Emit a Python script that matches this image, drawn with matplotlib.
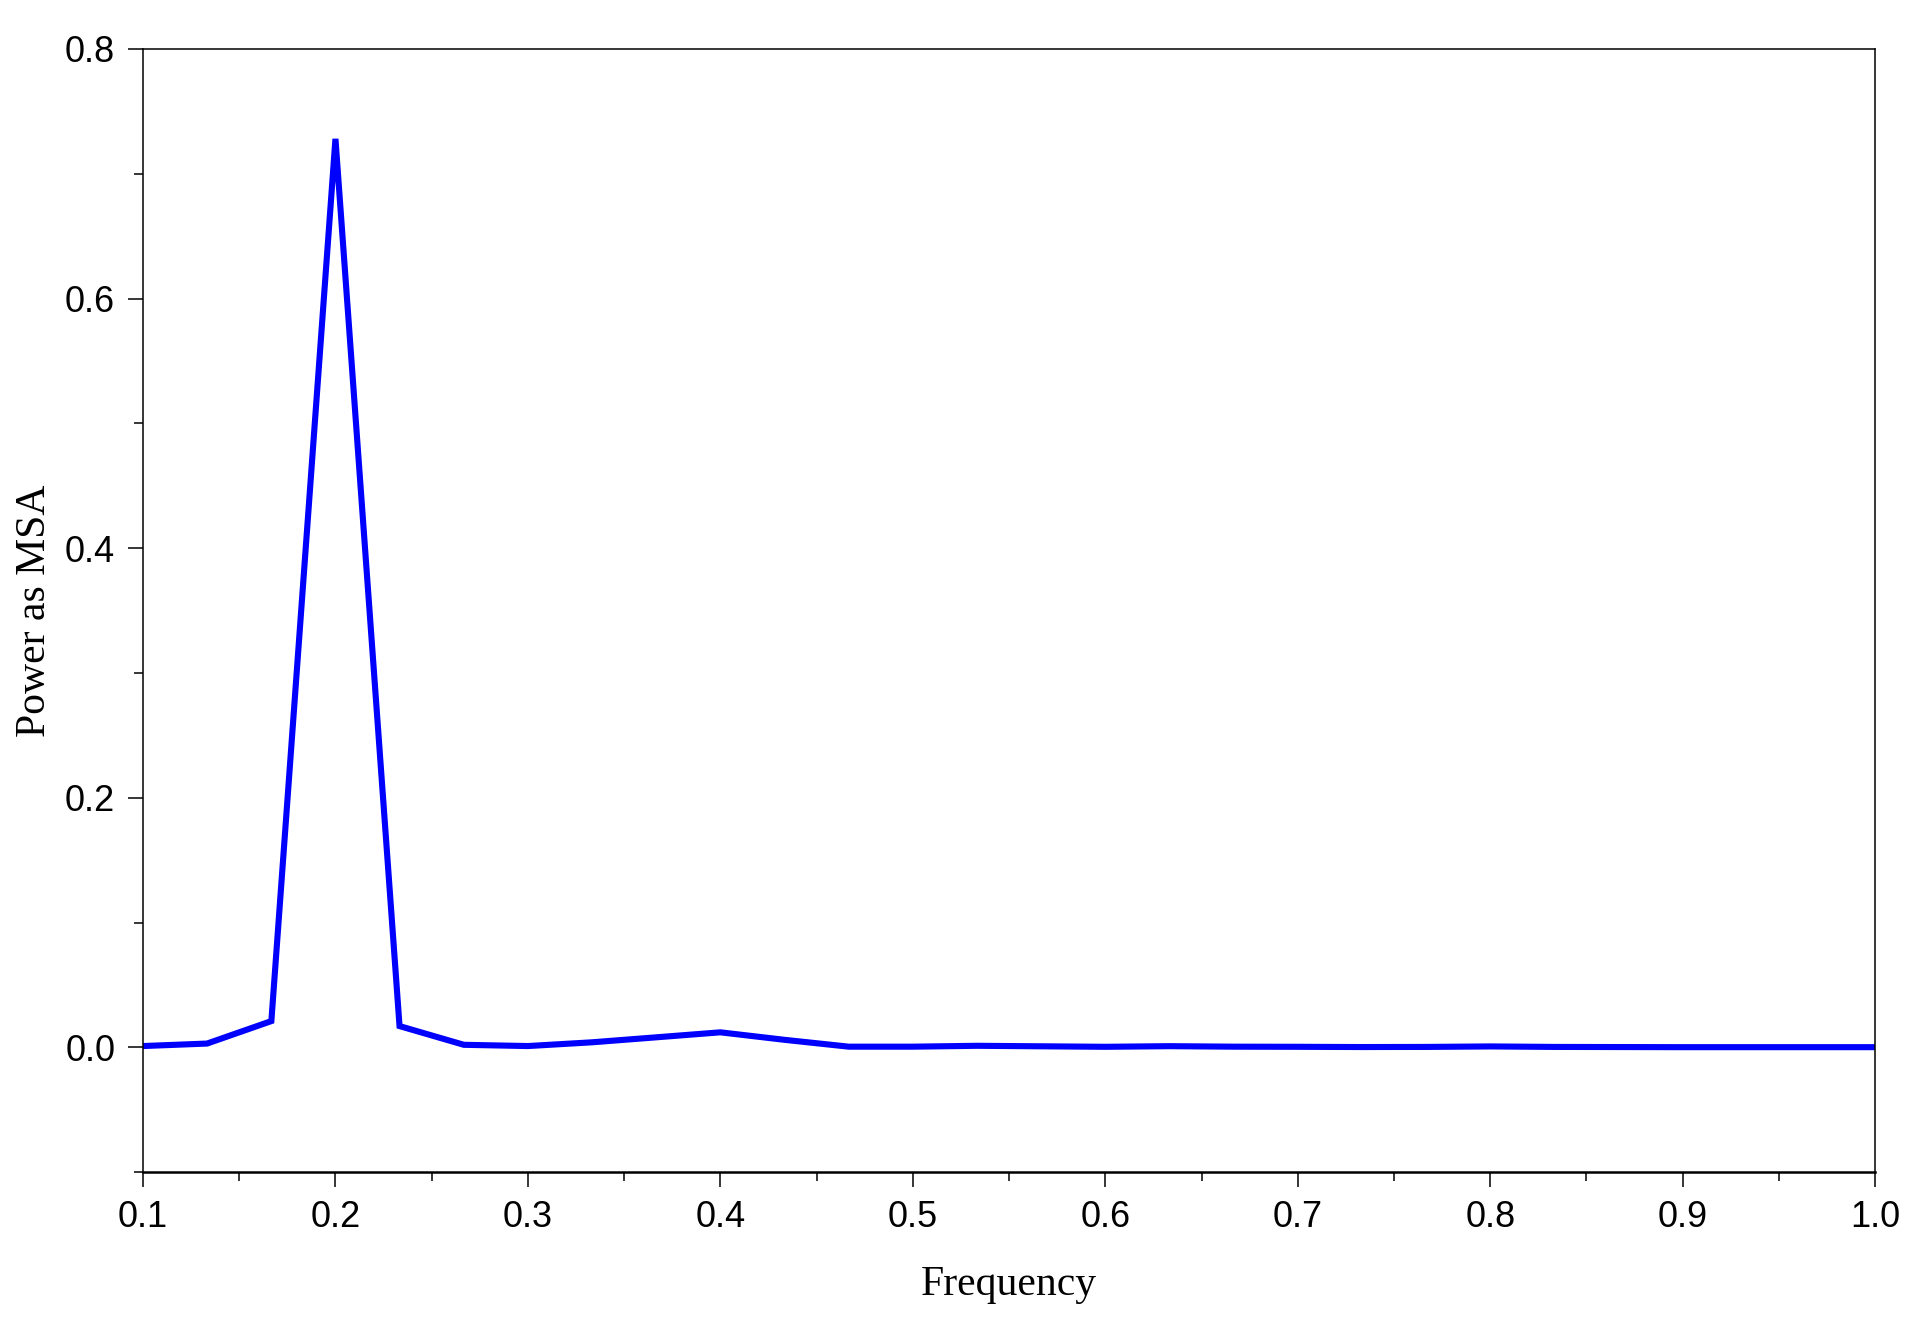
import matplotlib
matplotlib.use('Agg')
import matplotlib.pyplot as plt
from matplotlib.ticker import MultipleLocator, FormatStrFormatter

# frequency grid (k/30) and power values
freq = [0.1000, 0.1333, 0.1667, 0.2000, 0.2333, 0.2667, 0.3000, 0.3333, 0.3667, 0.4000,
        0.4333, 0.4667, 0.5000, 0.5333, 0.5667, 0.6000, 0.6333, 0.6667, 0.7000, 0.7333,
        0.7667, 0.8000, 0.8333, 0.8667, 0.9000, 0.9333, 0.9667, 1.0000]
power = [0.001, 0.003, 0.021, 0.728, 0.017, 0.002, 0.001, 0.004, 0.008, 0.012,
         0.006, 0.0005, 0.0005, 0.0012, 0.0008, 0.0004, 0.0009, 0.0005, 0.0004, 0.0002,
         0.0003, 0.0007, 0.0003, 0.0002, 0.0001, 0.0001, 0.0001, 0.0001]

fig = plt.figure(figsize=(19.22, 13.38), dpi=100)
ax = fig.add_axes([0.0744, 0.124, 0.9012, 0.8394])

ax.plot(freq, power, color='#0000ff', lw=4.4, solid_joinstyle='miter')

ax.set_xlim(0.1, 1.0)
ax.set_ylim(-0.1, 0.8)
ax.xaxis.set_major_locator(MultipleLocator(0.1))
ax.xaxis.set_minor_locator(MultipleLocator(0.05))
ax.yaxis.set_major_locator(MultipleLocator(0.2))
ax.yaxis.set_minor_locator(MultipleLocator(0.1))
ax.xaxis.set_major_formatter(FormatStrFormatter('%.1f'))
ax.yaxis.set_major_formatter(FormatStrFormatter('%.1f'))

ax.tick_params(which='major', direction='out', length=11, width=1.1, labelsize=26, pad=9)
ax.tick_params(which='minor', direction='out', length=6.5, width=1.1)
for lab in ax.get_xticklabels() + ax.get_yticklabels():
    lab.set_family('Liberation Sans')
for s in ax.spines.values():
    s.set_linewidth(1.1)
ax.spines['bottom'].set_linewidth(1.8)

ax.set_xlabel('Frequency', family='Liberation Serif', fontsize=30, labelpad=22)
ax.set_ylabel('Power as MSA', family='Liberation Serif', fontsize=30, labelpad=8)

plt.savefig('out.png', dpi=100)
